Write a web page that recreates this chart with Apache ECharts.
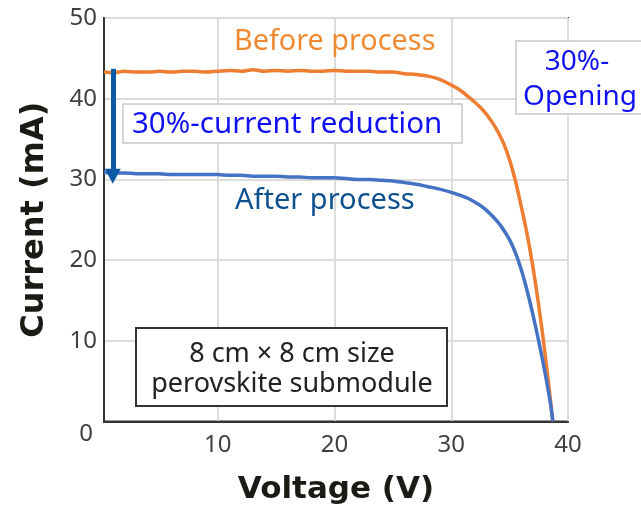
<!DOCTYPE html>
<html>
<head>
<meta charset="utf-8">
<script src="https://cdn.jsdelivr.net/npm/echarts@6/dist/echarts.min.js"></script>
<style>
html,body{margin:0;padding:0;background:#fff;}
#chart{width:641px;height:510px;}
</style>
</head>
<body>
<div id="chart"></div>
<script>
// ---- data ----
const voltsBefore = [0.25,1,2,3,4,5,6,7,8,9,10,11,12,13,14,15,16,17,18,19,20,21,22,23,24,25,26,27,28,29,30,30.5,31,31.5,32,32.5,33,33.5,34,34.5,35,35.5,36,36.5,37,37.5,38,38.5,38.7];
const ampsBefore  = [43.3,43.2,43.4,43.3,43.3,43.4,43.3,43.4,43.4,43.3,43.4,43.5,43.4,43.6,43.4,43.5,43.4,43.5,43.4,43.4,43.5,43.4,43.4,43.4,43.3,43.3,43.1,43.0,42.8,42.4,41.7,41.3,40.8,40.2,39.6,38.9,38.1,37.1,35.9,34.4,32.4,29.8,26.6,23.2,19.1,14.3,8.8,2.6,0];
const voltsAfter  = [0.25,1,2,3,4,5,6,7,8,9,10,11,12,13,14,15,16,17,18,19,20,21,22,23,24,25,26,27,28,29,30,30.5,31,31.5,32,32.5,33,33.5,34,34.5,35,35.5,36,36.5,37,37.5,38,38.5,38.7];
const ampsAfter   = [30.85,30.8,30.8,30.7,30.7,30.7,30.6,30.6,30.6,30.6,30.6,30.5,30.5,30.4,30.4,30.4,30.3,30.3,30.2,30.2,30.2,30.1,30.0,30.0,29.9,29.8,29.6,29.4,29.1,28.8,28.4,28.15,27.9,27.6,27.2,26.75,26.2,25.5,24.7,23.7,22.5,20.9,18.8,16.2,13.2,9.9,6.3,2.2,0];
const xTickLabels = [10,20,30,40];
const yTickLabels = [0,10,20,30,40,50];
const arrowFrom = [1.0, 43.7];
const arrowTo   = [1.0, 30.4];

const pairs = (xs, ys) => xs.map((x, i) => [x, ys[i]]);

const chart = echarts.init(document.getElementById('chart'), null, {renderer:'canvas'});
const tickFont = {fontFamily:'Noto Sans', fontSize:24, color:'#404040'};
const option = {
  animation:false,
  backgroundColor:'#fff',
  grid:{left:104, top:18, width:464, height:404, show:true, borderColor:'#333', borderWidth:2, backgroundColor:'transparent'},
  xAxis:{
    type:'value', min:0.25, max:40, splitNumber:4,
    axisLine:{show:true, lineStyle:{color:'#333', width:2}},
    axisTick:{show:false},
    splitLine:{show:true, lineStyle:{color:'#dcdcdc', width:2}},
    axisLabel:Object.assign({margin:12, formatter:v => xTickLabels.includes(v) ? String(v) : ''}, tickFont),
    name:'Voltage (V)', nameLocation:'middle', nameGap:68,
    nameTextStyle:{fontFamily:'DejaVu Sans', fontWeight:'bold', fontSize:31, color:'#1c1a14', verticalAlign:'middle'}
  },
  yAxis:{
    type:'value', min:0, max:50, interval:10,
    axisLine:{show:true, lineStyle:{color:'#333', width:2}},
    axisTick:{show:false},
    splitLine:{show:true, lineStyle:{color:'#dcdcdc', width:2}},
    axisLabel:Object.assign({margin:7,
      formatter:v => yTickLabels.includes(v) ? (v === 0 ? '{z|0}' : String(v)) : '',
      rich:{z:{fontFamily:'Noto Sans', fontSize:24, color:'#404040', padding:[26,4,0,0]}}
    }, tickFont),
    name:'Current (mA)', nameLocation:'middle', nameGap:69, nameRotate:90,
    nameTextStyle:{fontFamily:'DejaVu Sans', fontWeight:'bold', fontSize:32, color:'#1c1a14', verticalAlign:'middle'}
  },
  series:[
    {type:'line', name:'Before process', data:pairs(voltsBefore, ampsBefore), showSymbol:false, smooth:0.3,
     lineStyle:{color:'#ED7D31', width:3.5}, z:3},
    {type:'line', name:'After process', data:pairs(voltsAfter, ampsAfter), showSymbol:false, smooth:0.3,
     lineStyle:{color:'#4472C4', width:3.5}, z:4,
     markLine:{silent:true, symbol:['none','triangle'], symbolSize:[16,15], animation:false,
       label:{show:false},
       lineStyle:{color:'#0C5AA6', width:5, type:'solid'},
       data:[[{coord:arrowFrom},{coord:arrowTo}]]}}
  ],
  graphic:[
    {type:'text', x:234, y:42, z:10, style:{text:'Before process', fontFamily:'Noto Sans', fontSize:28.8, fill:'#F08A32', verticalAlign:'middle'}},
    {type:'rect', z:10, shape:{x:123, y:104, width:339, height:39}, style:{fill:'#fff', stroke:'#c8c8c8', lineWidth:1.5}},
    {type:'text', x:132, y:125, z:11, style:{text:'30%-current reduction', fontFamily:'Noto Sans', fontSize:29.5, fill:'#1010F0', verticalAlign:'middle'}},
    {type:'text', x:235, y:201, z:10, style:{text:'After process', fontFamily:'Noto Sans', fontSize:29, fill:'#0E4F8E', verticalAlign:'middle'}},
    {type:'rect', z:10, shape:{x:516, y:41, width:140, height:73}, style:{fill:'#fff', stroke:'#c8c8c8', lineWidth:1.5}},
    {type:'text', x:577, y:62, z:11, style:{text:'30%-', fontFamily:'Noto Sans', fontSize:28, fill:'#1010F0', align:'center', verticalAlign:'middle'}},
    {type:'text', x:580, y:97, z:11, style:{text:'Opening', fontFamily:'Noto Sans', fontSize:28, fill:'#1010F0', align:'center', verticalAlign:'middle'}},
    {type:'rect', z:10, shape:{x:136, y:328, width:311, height:78}, style:{fill:'#fff', stroke:'#333', lineWidth:2}},
    {type:'text', x:292, y:354, z:11, style:{text:'8 cm × 8 cm size', fontFamily:'Noto Sans', fontSize:27, fill:'#222', align:'center', verticalAlign:'middle'}},
    {type:'text', x:292, y:384, z:11, style:{text:'perovskite submodule', fontFamily:'Noto Sans', fontSize:27, fill:'#222', align:'center', verticalAlign:'middle'}}
  ]
};
chart.setOption(option);
</script>
</body>
</html>
